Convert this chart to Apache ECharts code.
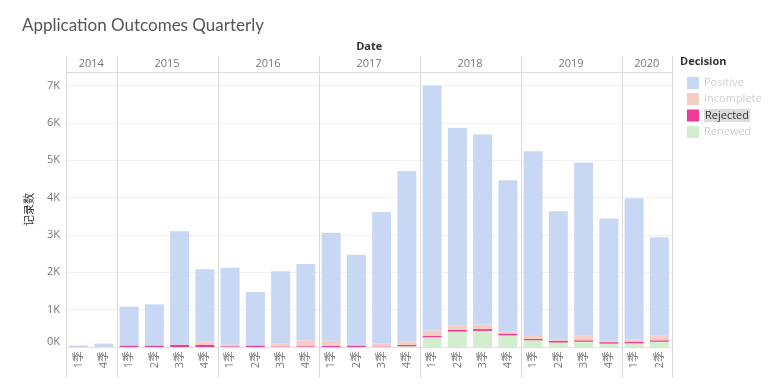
<!DOCTYPE html>
<html><head><meta charset="utf-8">
<script src="https://cdn.jsdelivr.net/npm/echarts@6/dist/echarts.min.js"></script>
<style>html,body{margin:0;padding:0;background:#fff}#c{width:768px;height:391px}</style>
</head><body><div id="c"></div>
<script>
const years = ['2014','2015','2016','2017','2018','2019','2020'];
const yearQuarters = [
  ['1季','4季'],
  ['1季','2季','3季','4季'],
  ['1季','2季','3季','4季'],
  ['1季','2季','3季','4季'],
  ['1季','2季','3季','4季'],
  ['1季','2季','3季','4季'],
  ['1季','2季']
];
const quarters = yearQuarters.flat();
const renewed    = [0,0, 0,0,0,0, 0,0,0,0, 0,0,0,20, 260,410,430,310, 180,120,140,90, 100,140];
const rejected   = [0,0, 40,40,60,60, 20,40,15,20, 30,40,15,40, 40,50,50,50, 40,40,40,40, 40,40];
const incomplete = [0,0, 5,5,10,80, 50,5,80,160, 140,10,80,80, 140,120,120,60, 100,60,120,40, 60,120];
const positive   = [40,90, 1035,1095,3030,1940, 2050,1425,1935,2040, 2890,2420,3515,4570, 6560,5280,5090,4040, 4920,3410,4640,3270, 3780,2640];
const yTicks = [0,1000,2000,3000,4000,5000,6000,7000];

const colors = {Positive:'#c8d7f3', Incomplete:'#f4cdc3', Rejected:'#ec3c98', Renewed:'#d3eecf'};
const chart = echarts.init(document.getElementById('c'));
const FONT = '"Open Sans", "Noto Sans CJK SC", sans-serif';
function bar(name, data){
  return {name, type:'bar', stack:'t', data, barWidth:'75%',
    itemStyle:{color:colors[name]}, emphasis:{disabled:true}};
}
chart.setOption({
  animation:false,
  textStyle:{fontFamily:FONT},
  title:{text:'Application Outcomes Quarterly', left:17, top:12,
    textStyle:{fontSize:17, fontWeight:'normal', color:'#555', fontFamily:'Lato, sans-serif'}},
  legend:{orient:'vertical', left:682, top:72, itemWidth:12, itemHeight:12, itemGap:4,
    icon:'rect', selectedMode:false,
    data:[
      {name:'Positive', textStyle:{color:'#cfcfcf'}},
      {name:'Incomplete', textStyle:{color:'#cfcfcf'}},
      {name:'Rejected', textStyle:{color:'#333', backgroundColor:'#dcdcdc', padding:[1,1]}},
      {name:'Renewed', textStyle:{color:'#cfcfcf'}}
    ],
    textStyle:{fontSize:11, fontFamily:FONT}},
  grid:{left:66, right:96, top:72, bottom:44, containLabel:false},
  xAxis:{type:'category', data:quarters,
    axisLine:{lineStyle:{color:'#e2e2e2'}}, axisTick:{show:false},
    axisLabel:{rotate:90, interval:0, color:'#777', fontSize:11, margin:4, fontFamily:FONT}},
  yAxis:{type:'value', min:0, max:7360, interval:1000,
    name:'记录数', nameLocation:'middle', nameGap:32, nameRotate:90,
    nameTextStyle:{color:'#333', fontSize:11, fontFamily:'"Noto Sans CJK SC", sans-serif'},
    axisLine:{show:false}, axisTick:{show:false},
    splitLine:{lineStyle:{color:'#f1f1f1'}},
    axisLabel:{color:'#777', fontSize:11, margin:6, verticalAlignMinLabel:'bottom',
      formatter:v=> yTicks.includes(v) ? (v/1000)+'K' : ''}},
  series:[bar('Renewed',renewed), bar('Rejected',rejected), bar('Incomplete',incomplete), bar('Positive',positive)]
});

// header & separators derived from the axis scale
const x0 = chart.convertToPixel({xAxisIndex:0}, 0);
const x1 = chart.convertToPixel({xAxisIndex:0}, 1);
const w = x1 - x0;
const gr = [];
const topY = 56, hdrY = 72, botY = 378;
let idx = 0;
const lineStyle = {stroke:'#dadada', lineWidth:1};
const left = Math.round(x0 - w/2) + 0.5;
gr.push({type:'line', shape:{x1:left, y1:topY, x2:left, y2:botY}, style:lineStyle, silent:true});
years.forEach((y,i)=>{
  const n = yearQuarters[i].length;
  const start = chart.convertToPixel({xAxisIndex:0}, idx) - w/2;
  const end = chart.convertToPixel({xAxisIndex:0}, idx+n-1) + w/2;
  const ex = Math.round(end) + 0.5;
  gr.push({type:'line', shape:{x1:ex, y1:topY, x2:ex, y2:botY}, style:lineStyle, silent:true});
  gr.push({type:'text', x:(start+end)/2, y:64, style:{text:y, fill:'#777', fontSize:11, fontFamily:FONT, align:'center', verticalAlign:'middle'}, silent:true});
  idx += n;
});
const right = chart.convertToPixel({xAxisIndex:0}, quarters.length-1) + w/2;
gr.push({type:'line', shape:{x1:left, y1:hdrY+0.5, x2:right, y2:hdrY+0.5}, style:lineStyle, silent:true});
gr.push({type:'text', x:(left+right)/2, y:47, style:{text:'Date', fill:'#333', fontSize:11, fontWeight:'bold', fontFamily:FONT, align:'center', verticalAlign:'middle'}, silent:true});
gr.push({type:'text', x:680, y:62, style:{text:'Decision', fill:'#333', fontSize:11, fontWeight:'bold', fontFamily:FONT, align:'left', verticalAlign:'middle'}, silent:true});
chart.setOption({graphic:gr});
</script>
</body></html>
